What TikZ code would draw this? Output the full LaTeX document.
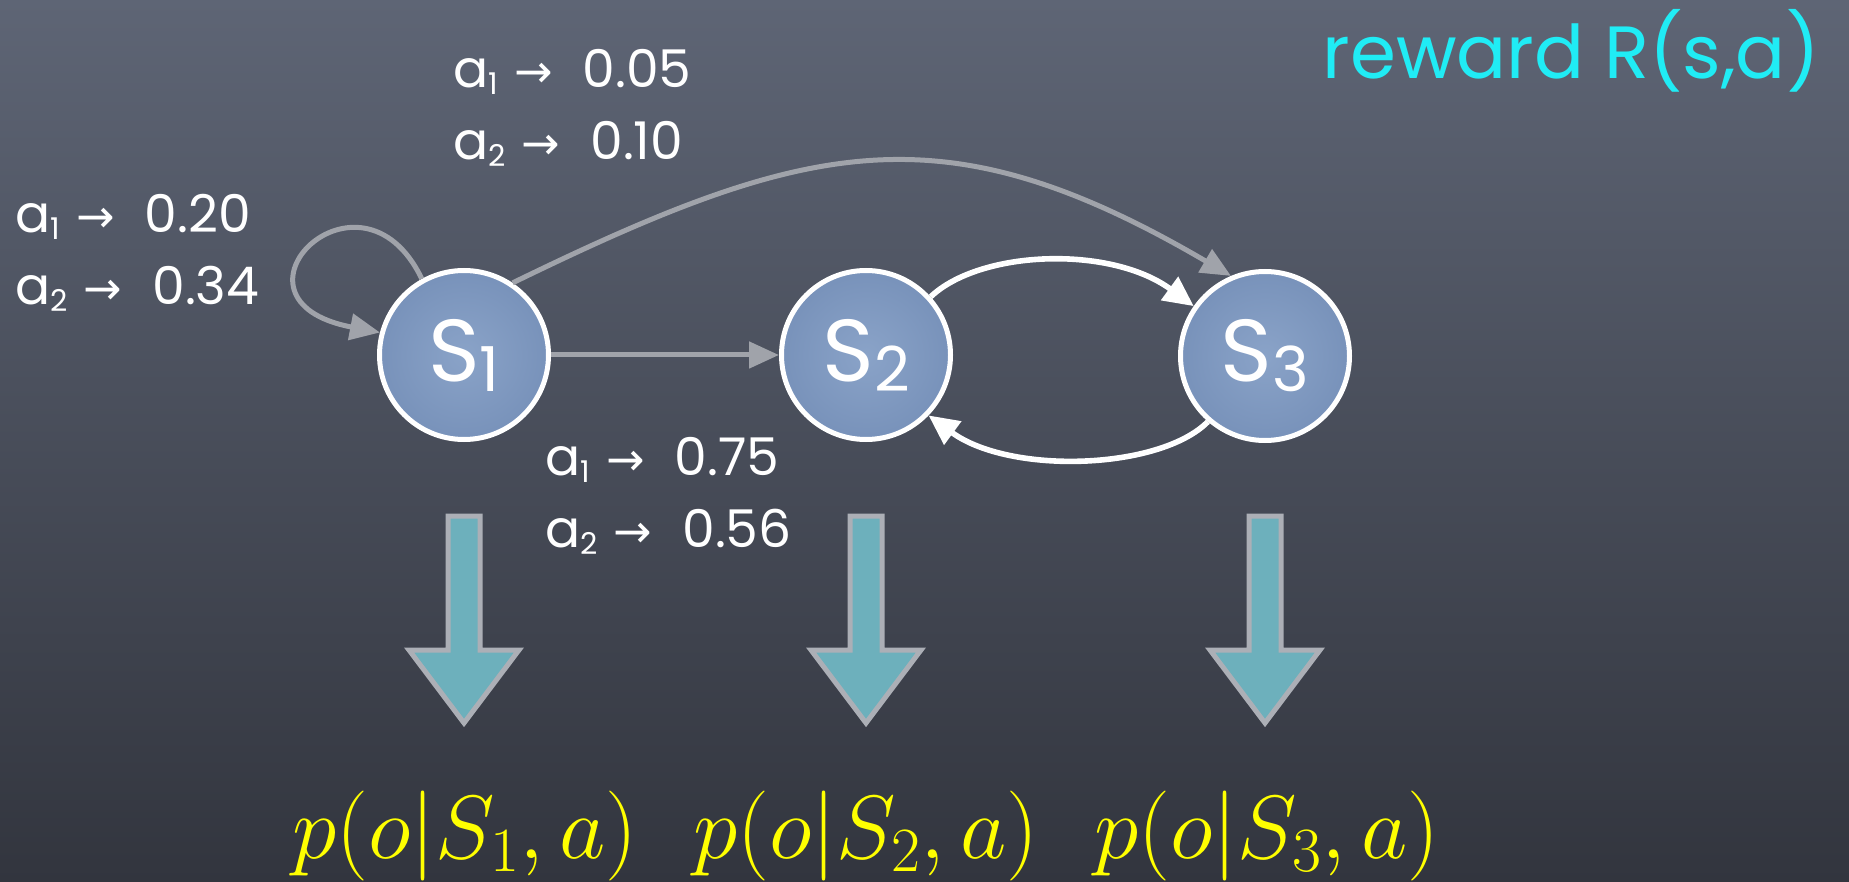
\RequirePackage{fix-cm}
\documentclass[tikz,border=0pt]{standalone}
\usepackage{fontspec}
\setmainfont{Poppins}
\newfontfamily\arrowfont{DejaVu Sans}
\usetikzlibrary{arrows.meta}

\definecolor{bgtop}{RGB}{94,101,117}
\definecolor{bgbot}{RGB}{50,53,62}
\definecolor{nodeblue}{RGB}{120,146,186}
\definecolor{nodelight}{RGB}{138,163,200}
\definecolor{greyline}{RGB}{160,163,170}
\definecolor{blockfill}{RGB}{109,176,188}
\definecolor{blockedge}{RGB}{172,175,182}
\definecolor{rewardcyan}{RGB}{32,236,245}
\definecolor{formulayellow}{RGB}{255,255,0}

\newcommand\mysub[1]{\raisebox{-3.5pt}{\fontsize{15}{15}\selectfont #1}}
\newcommand\statesub[1]{\raisebox{-5pt}{\fontsize{31}{31}\selectfont #1}}
\newcommand\arr{\hspace{8pt}{\arrowfont\fontsize{23}{23}\selectfont →}\hspace{15pt}}

\tikzset{
  state/.style={circle, minimum size=84.5pt, inner sep=0pt, draw=white, line width=2.5pt,
    inner color=nodelight, outer color=nodeblue, text=white, font=\fontsize{44}{44}\selectfont},
  greyarrow/.style={draw=greyline, line width=2.5pt, -{Triangle[length=15pt,width=13pt]}},
  whitearrow/.style={draw=white, line width=2.8pt, -{Triangle[length=15pt,width=14pt]}},
  problabel/.style={text=white, font=\fontsize{26}{36}\selectfont, align=left, inner sep=0pt},
  blockarrow/.style={fill=blockfill, draw=blockedge, line width=2.5pt},
  obsformula/.style={text=formulayellow, font=\fontsize{45}{48}\selectfont, inner sep=0pt, anchor=base},
  pics/downblock/.style={code={
    \draw[blockarrow] (-16,516) -- (16,516) -- (16,650) -- (55,650) -- (0,723) -- (-55,650) -- (-16,650) -- cycle;
  }}
}

\begin{document}
\begin{tikzpicture}[x=0.5pt, y=-0.5pt]
\useasboundingbox (0,0) rectangle (1849,882);
\shade[top color=bgtop, bottom color=bgbot] (0,0) rectangle (1849,882);
\coordinate (top) at (0,0);

% states
\node[state] (s1) at (464,355) {S\statesub{1}};
\node[state] (s2) at (866,355) {S\statesub{2}};
\node[state] (s3) at (1265,356) {S\statesub{3}};

% transitions
\draw[greyarrow] (s1.119) .. controls (360,150) and (210,300) .. (s1.165);
\draw[greyarrow] (s1.56) .. controls (810,138) and (944,108) .. (s3.113);
\draw[greyarrow] (s1) -- (s2);
\draw[whitearrow] (s2.42) .. controls (980,250) and (1110,245) .. (s3.145);
\draw[whitearrow] (s3.229) .. controls (1160,470) and (1010,475) .. (s2.316);

% transition probability labels (base = baseline of the last line)
\node[problabel, anchor=base west] (loopl) at (15,305) {a\mysub{1}\arr 0.20\\ a\mysub{2}\arr 0.34};
\node[problabel, anchor=base west] (topl) at (453,160) {a\mysub{1}\arr 0.05\\ a\mysub{2}\arr 0.10};
\node[problabel, anchor=base west] (botl) at (545,547) {a\mysub{1}\arr 0.75\\ a\mysub{2}\arr 0.56};

% reward
\node[text=rewardcyan, font=\fontsize{37}{37}\selectfont, anchor=base east, inner sep=0pt] (reward) at (1820,79) {reward R(s,a)};

% observation arrows
\pic at (s1 |- top) {downblock};
\pic at (s2 |- top) {downblock};
\pic at (s3 |- top) {downblock};

% observation model
\node[obsformula] (o1) at (465,858) {$p(o|S_1,a)$};
\node[obsformula] (o2) at (866,858) {$p(o|S_2,a)$};
\node[obsformula] (o3) at (1267,858) {$p(o|S_3,a)$};
\end{tikzpicture}
\end{document}
